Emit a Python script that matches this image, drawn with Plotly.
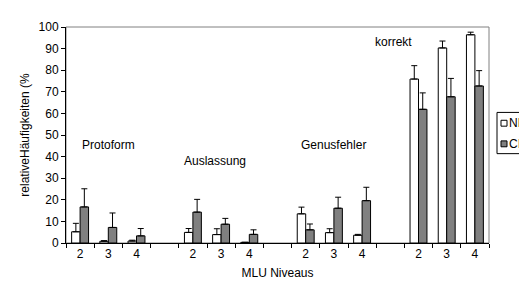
import plotly.graph_objects as go

# ---- data ----
groups = ["Protoform", "Auslassung", "Genusfehler", "korrekt"]
levels = ["2", "3", "4"]
series_names = ["NH", "CI"]

nh_values = [5.2, 0.8, 0.9,   4.9, 3.9, 0.3,   13.5, 4.8, 3.6,   75.9, 90.3, 96.4]
nh_errors = [3.9, 0.3, 0.4,   1.8, 2.7, 0.0,   3.1, 1.8, 0.4,    6.2, 3.2, 1.2]
ci_values = [16.7, 7.2, 3.3,  14.3, 8.7, 4.0,  6.1, 16.1, 19.6,  61.9, 67.7, 72.7]
ci_errors = [8.4, 6.7, 3.4,   5.9, 2.7, 2.1,   2.7, 5.1, 6.2,    7.6, 8.5, 7.1]

group_label_y = [45.3, 38.0, 45.3, 93.0]
group_label_dx = [0.0, -0.2, 0.0, -1.87]

# ---- positions on a categorical-like numeric axis (one empty slot between groups) ----
slots_per_group = len(levels) + 1
x_pos = []
tick_text = []
for gi, g in enumerate(groups):
    for li, lv in enumerate(levels):
        x_pos.append(gi * slots_per_group + li)
        tick_text.append(lv)
n_slots = len(groups) * slots_per_group - 1
boundaries = [b - 0.5 for b in range(n_slots + 1)]

FONT = "Arial, Liberation Sans, sans-serif"

fig = go.Figure()
fig.add_trace(go.Bar(
    x=x_pos, y=nh_values, name=series_names[0],
    marker=dict(color="#ffffff", line=dict(color="#000000", width=1)),
    error_y=dict(type="data", symmetric=False, array=nh_errors,
                 arrayminus=[0] * len(nh_errors), color="#000000",
                 thickness=1, width=3),
    showlegend=False,
))
fig.add_trace(go.Bar(
    x=x_pos, y=ci_values, name=series_names[1],
    marker=dict(color="#808080", line=dict(color="#000000", width=1)),
    error_y=dict(type="data", symmetric=False, array=ci_errors,
                 arrayminus=[0] * len(ci_errors), color="#000000",
                 thickness=1, width=3),
    showlegend=False,
))

annotations = []
for gi, g in enumerate(groups):
    annotations.append(dict(
        x=gi * slots_per_group + 1 + group_label_dx[gi], y=group_label_y[gi],
        xref="x", yref="y", text=g, showarrow=False,
        font=dict(family=FONT, size=12, color="#000"),
        xanchor="center", yanchor="middle"))

# manual legend (box partly beyond the right edge as in the reference)
L, R, T, B = 58, 481, 18, 238
def px(xp):
    return (xp - L) / (R - L)
def py(yp):
    return (B - yp) / (B - T)

fills = ["#ffffff", "#808080"]
row_y = [116, 137]
shapes = [
    dict(type="rect", xref="paper", yref="paper",
         x0=px(489), x1=px(540), y0=py(147), y1=py(105),
         line=dict(color="#000", width=1), fillcolor="#fff"),
    dict(type="rect", xref="paper", yref="paper",
         x0=0, x1=1, y0=0, y1=1, line=dict(color="#808080", width=1),
         layer="below"),
]
for i, name in enumerate(series_names):
    shapes.append(dict(type="rect", xref="paper", yref="paper",
                       x0=px(493), x1=px(499), y0=py(row_y[i] + 3), y1=py(row_y[i] - 3),
                       line=dict(color="#000", width=1), fillcolor=fills[i]))
    annotations.append(dict(x=px(499), y=py(row_y[i]), xref="paper", yref="paper",
                            text=name, showarrow=False, xanchor="left", yanchor="middle",
                            font=dict(family=FONT, size=12, color="#000")))

fig.update_layout(
    width=527, height=282,
    margin=dict(l=L, r=527 - R, t=T, b=282 - B, pad=0),
    paper_bgcolor="#ffffff", plot_bgcolor="#ffffff",
    barmode="group", bargap=0.4, bargroupgap=0,
    font=dict(family=FONT, size=12, color="#000"),
    annotations=annotations, shapes=shapes,
    xaxis=dict(
        range=[-0.5, n_slots - 0.5], tickmode="array", tickvals=x_pos, ticktext=tick_text,
        ticks="", showline=True, linecolor="#000", linewidth=1, showgrid=False, zeroline=False,
        minor=dict(tickmode="array", tickvals=boundaries, ticks="outside", ticklen=4,
                   tickcolor="#000", tickwidth=1, showgrid=False),
        title=dict(text="MLU Niveaus", standoff=8, font=dict(size=12)),
        tickfont=dict(size=12), fixedrange=True,
    ),
    yaxis=dict(
        range=[0, 100], dtick=10, ticks="outside", ticklen=4, tickcolor="#000",
        showline=True, linecolor="#000", linewidth=1, showgrid=False, zeroline=False,
        title=dict(text="relativeHäufigkeiten (%", standoff=6, font=dict(size=12)),
        tickfont=dict(size=12), fixedrange=True,
    ),
)

fig.write_html("out.html")
